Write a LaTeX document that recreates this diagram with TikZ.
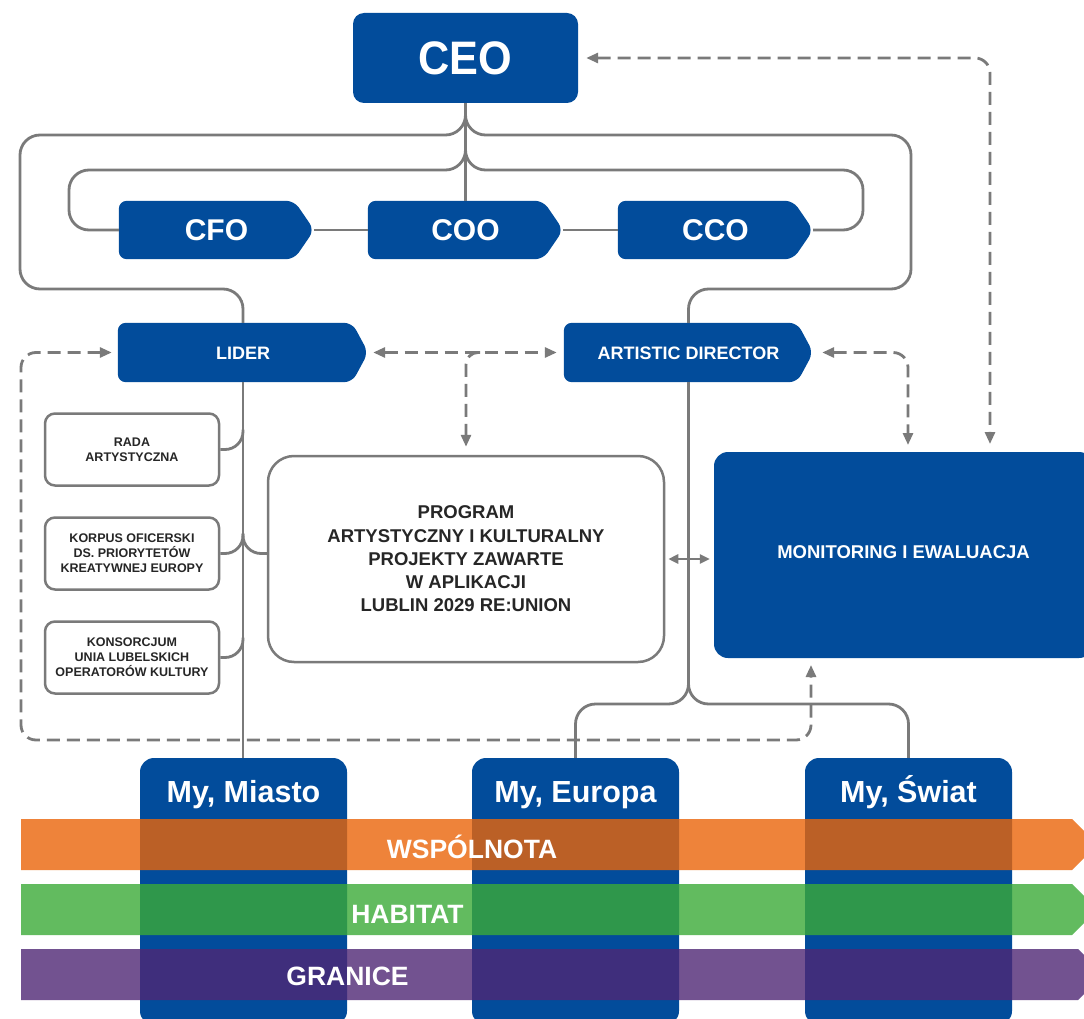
\documentclass[tikz,border=0pt]{standalone}
\usepackage{fontspec}
\usepackage{graphicx}
\setmainfont{Liberation Sans}
\usetikzlibrary{arrows.meta}
\pgfdeclarelayer{backdrop}
\pgfdeclarelayer{bg}
\pgfsetlayers{backdrop,bg,main}
\definecolor{boxblue}{RGB}{2,76,155}
\definecolor{linegray}{RGB}{122,122,122}
\definecolor{txtdark}{RGB}{38,38,38}
\definecolor{bandorange}{RGB}{234,101,9}
\definecolor{bandgreen}{RGB}{59,170,56}
\definecolor{bandpurple}{RGB}{79,39,117}
\newcommand{\fsz}[2]{\fontsize{#1}{#2}\selectfont}
\begin{document}
\begin{tikzpicture}[x=1pt,y=-1pt,
  conn/.style={draw=linegray, line width=2.8pt, rounded corners=20pt},
  tipA/.tip={Triangle[length=12pt,width=10pt]},
  dashconn/.style={draw=linegray, line width=2.8pt, dash pattern=on 13pt off 7pt, rounded corners=15pt},
  bluebox/.style={fill=boxblue, text=white, draw=none, inner sep=0pt, rounded corners=10pt},
  tabnode/.style={text=white, inner sep=0pt, draw=none},
  whitebox/.style={draw=linegray, line width=2.5pt, fill=white, text=txtdark, inner sep=0pt, align=center},
  smallbox/.style={whitebox, minimum width=174pt, minimum height=72pt, rounded corners=10pt, font=\bfseries\fsz{12.5}{15}},
  mytitle/.style={text=white, font=\bfseries\fsz{30.5}{32}, anchor=base, inner sep=0pt},
  bandtext/.style={text=white, font=\bfseries\fsz{26.5}{28}, anchor=base, inner sep=0pt}
]
\useasboundingbox (0,0) rectangle (1084,1019);
\begin{pgfonlayer}{backdrop}
\fill[white] (0,0) rectangle (1084,1019);
\end{pgfonlayer}
\clip (0,0) rectangle (1084,1019);

% CEO
\node[bluebox, minimum width=225pt, minimum height=90pt, rounded corners=11pt,
      font=\bfseries\fsz{47}{47}, text height=34pt, text depth=0pt] (ceo) at (465.5,58) {\scalebox{0.92}[1]{CEO}};

% C-level tabs
\node[tabnode, minimum width=195pt, minimum height=58pt, font=\bfseries\fsz{30}{30}, text height=21.5pt, text depth=0pt] (cfo) at (216.5,230) {CFO};
\node[tabnode, minimum width=195pt, minimum height=58pt, font=\bfseries\fsz{30}{30}, text height=21.5pt, text depth=0pt] (coo) at (465.5,230) {COO};
\node[tabnode, minimum width=195pt, minimum height=58pt, font=\bfseries\fsz{30}{30}, text height=21.5pt, text depth=0pt] (cco) at (715.5,230) {CCO};

% second level tabs
\node[tabnode, minimum width=250pt, minimum height=59pt, font=\bfseries\fsz{18}{18}, text height=13pt, text depth=0pt] (lider) at (243,352.5) {LIDER};
\node[tabnode, minimum width=249pt, minimum height=59pt, font=\bfseries\fsz{18}{18}, text height=13pt, text depth=0pt] (ad) at (688.5,352.5) {ARTISTIC DIRECTOR};

\begin{pgfonlayer}{bg}
\foreach \n in {cfo,coo,cco}{
  \fill[boxblue, rounded corners=8pt] (\n.north west) -- ([xshift=-20pt]\n.north east) -- (\n.east) -- ([xshift=-20pt]\n.south east) -- (\n.south west) -- cycle;
}
\foreach \n in {lider,ad}{
  \fill[boxblue, rounded corners=8pt] (\n.north west) -- ([xshift=-16pt]\n.north east) -- (\n.east) -- ([xshift=-16pt]\n.south east) -- (\n.south west) -- cycle;
}
\end{pgfonlayer}

% small boxes
\node[smallbox] (rada) at (132,449.5) {RADA\\ARTYSTYCZNA};
\node[smallbox] (korpus) at (132,553.5) {KORPUS OFICERSKI\\DS. PRIORYTETÓW\\KREATYWNEJ EUROPY};
\node[smallbox] (kons) at (132,657.5) {KONSORCJUM\\UNIA LUBELSKICH\\OPERATORÓW KULTURY};

% program box
\node[whitebox, minimum width=396pt, minimum height=206pt, rounded corners=26pt, font=\bfseries\fsz{18.5}{23.3}] (prog) at (466,559)
  {PROGRAM\\ARTYSTYCZNY I KULTURALNY\\PROJEKTY ZAWARTE\\W APLIKACJI\\LUBLIN 2029 RE:UNION};

% monitoring box
\node[bluebox, minimum width=379pt, minimum height=206pt, rounded corners=14pt,
      font=\bfseries\fsz{18.5}{20}, text height=13.2pt, text depth=6.5pt] (mon) at (903.5,555) {MONITORING I EWALUACJA};

% My boxes
\node[bluebox, minimum width=207pt, minimum height=267pt, rounded corners=14pt] (miasto) at (243.5,891.5) {};
\node[bluebox, minimum width=207pt, minimum height=267pt, rounded corners=14pt] (europa) at (575.5,891.5) {};
\node[bluebox, minimum width=207pt, minimum height=267pt, rounded corners=14pt] (swiat) at (908.5,891.5) {};
\node[mytitle] (tmiasto) at (243.5,802) {My, Miasto};
\node[mytitle] (teuropa) at (575.5,802) {My, Europa};
\node[mytitle] (tswiat) at (908.5,802) {My, Świat};

% solid connectors
\draw[conn] (ceo.south) -- (coo.north);
\draw[conn] (465.5,115) -- (465.5,135) -- (20,135) -- (20,289) -- (243,289) -- (lider.north);
\draw[conn] (465.5,115) -- (465.5,135) -- (911,135) -- (911,289) -- (688.5,289) -- (ad.north);
\draw[conn] (465.5,150) -- (465.5,170) -- (69,170) -- (69,230) -- (cfo.west);
\draw[conn] (465.5,150) -- (465.5,170) -- (863,170) -- (863,230) -- (cco.east);
\draw[conn] (cfo.east) -- (coo.west);
\draw[conn] (coo.east) -- (cco.west);

\draw[conn] (lider.south) -- (lider.south |- miasto.north);
\draw[conn, rounded corners=18pt] (rada.east) -- (rada.east -| lider.south) -- ++(0,-20);
\draw[conn, rounded corners=18pt] (korpus.east) -- (korpus.east -| lider.south) -- ++(0,-20);
\draw[conn, rounded corners=18pt] (prog.west |- korpus.east) -- (korpus.east -| lider.south) -- ++(0,-20);
\draw[conn, rounded corners=18pt] (kons.east) -- (kons.east -| lider.south) -- ++(0,-20);

\draw[conn] (ad.south) -- (688.5,686);
\draw[conn] (688.5,684) -- (688.5,704) -- (575.5,704) -- (europa.north);
\draw[conn] (688.5,684) -- (688.5,704) -- (908.5,704) -- (swiat.north);

\draw[draw=linegray, line width=2.5pt, {Triangle[length=10pt,width=9pt]}-{Triangle[length=10pt,width=9pt]}, shorten <=3pt, shorten >=4pt]
  (prog.east) -- (prog.east -| mon.west);

% dashed connectors
\draw[dashconn, tipA-tipA, shorten <=8pt, shorten >=8pt] (ceo.east) -- (990,58) -- (990,452);
\draw[dashconn, tipA-tipA, shorten <=5pt, shorten >=7pt] (lider.east) -- (ad.west);
\draw[dashconn, -tipA, rounded corners=12pt, shorten >=8pt] (480,352.5) -- (466,352.5) -- (prog.north);
\draw[dashconn, tipA-tipA, shorten <=9pt, shorten >=7pt] (ad.east) -- (908,352.5) -- (908,452);
\draw[dashconn, tipA-tipA, shorten <=6pt, shorten >=7pt] (lider.west) -- (21,352.5) -- (21,740) -- (811,740) -- (811,658);

% bands
\fill[bandorange, fill opacity=0.8] (21,819) -- (1072,819) -- (1097.5,844.5) -- (1072,870) -- (21,870) -- cycle;
\fill[bandgreen, fill opacity=0.8] (21,884) -- (1072,884) -- (1097.5,909.5) -- (1072,935) -- (21,935) -- cycle;
\fill[bandpurple, fill opacity=0.8] (21,949) -- (1078,949) -- (1103.5,974.5) -- (1078,1000) -- (21,1000) -- cycle;
\node[bandtext] (wsp) at (472,858) {WSPÓLNOTA};
\node[bandtext] (hab) at (407.5,923) {HABITAT};
\node[bandtext] (gra) at (347.5,985) {GRANICE};
\end{tikzpicture}
\end{document}
